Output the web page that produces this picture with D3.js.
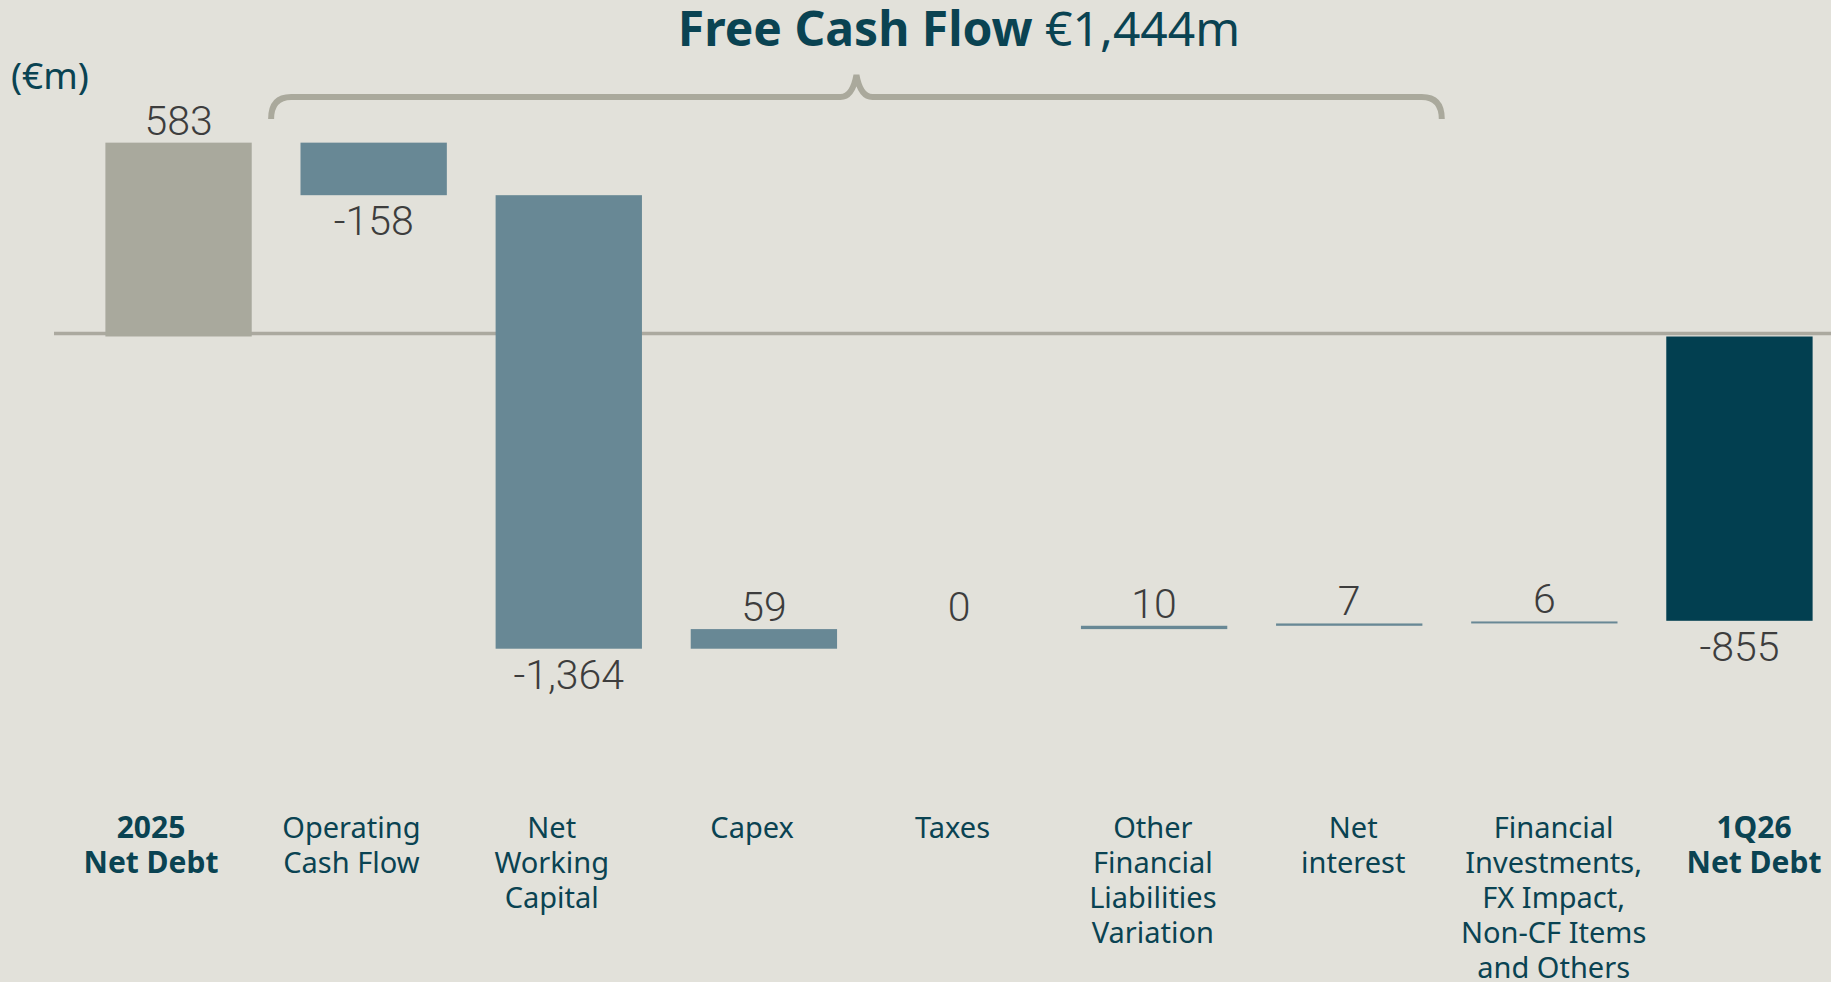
<!DOCTYPE html>
<html>
<head>
<meta charset="utf-8">
<script src="https://cdn.jsdelivr.net/npm/d3@7"></script>
<style>
  html, body { margin: 0; padding: 0; background: #e2e1da; }
  svg { display: block; }
</style>
</head>
<body>
<div id="chart"></div>
<script>
var svgWidth = 1831;
var svgHeight = 982;

// data
var categories = ["2025 Net Debt", "Operating Cash Flow", "Net Working Capital", "Capex", "Taxes",
    "Other Financial Liabilities Variation", "Net interest",
    "Financial Investments, FX Impact, Non-CF Items and Others", "1Q26 Net Debt"];
var labelLines = [
    ["2025", "Net Debt"],
    ["Operating", "Cash Flow"],
    ["Net", "Working", "Capital"],
    ["Capex"],
    ["Taxes"],
    ["Other", "Financial", "Liabilities", "Variation"],
    ["Net", "interest"],
    ["Financial", "Investments,", "FX Impact,", "Non-CF Items", "and Others"],
    ["1Q26", "Net Debt"]
];
var values = [583, -158, -1364, 59, 0, 10, 7, 6, -855];
var kinds = ["start", "delta", "delta", "delta", "delta", "delta", "delta", "delta", "end"];
var valueLabels = ["583", "-158", "-1,364", "59", "0", "10", "7", "6", "-855"];
var fcfFirst = 1, fcfLast = 6;   // bars covered by the Free Cash Flow brace

var colors = { start: "#a9a99d", delta: "#688895", end: "#023f50" };
var teal = "#0a4352";

// running totals for the waterfall
var running = 0;
var bars = values.map(function (v, i) {
    var y0, y1;
    if (kinds[i] === "delta") {
        y0 = running; y1 = running + v; running = y1;
    } else {
        y0 = 0; y1 = v; running = v;
    }
    return { cat: categories[i], kind: kinds[i], value: v, label: valueLabels[i],
        lines: labelLines[i], lo: Math.min(y0, y1), hi: Math.max(y0, y1) };
});

var svg = d3.select("#chart")
    .append("svg")
    .attr("width", svgWidth)
    .attr("height", svgHeight);

var x = d3.scaleBand()
    .domain(categories)
    .range([81, 1837])
    .paddingInner(0.25)
    .paddingOuter(0.125);

var xLabel = d3.scalePoint()
    .domain(categories)
    .range([151, 1754]);

var y = d3.scaleLinear()
    .domain([-1000, 600])
    .range([669, 137]);

// zero line
svg.append("line")
    .attr("x1", 54)
    .attr("x2", svgWidth)
    .attr("y1", y(0) - 3)
    .attr("y2", y(0) - 3)
    .attr("stroke", "#aba99f")
    .attr("stroke-width", 3.5);

svg.append("g")
    .selectAll("rect")
    .data(bars)
    .enter()
    .append("rect")
    .attr("x", d => x(d.cat))
    .attr("width", x.bandwidth())
    .attr("y", d => y(d.hi))
    .attr("height", d => y(d.lo) - y(d.hi))
    .attr("fill", d => colors[d.kind]);

// value labels
svg.append("g")
    .selectAll("text")
    .data(bars)
    .enter()
    .append("text")
    .attr("x", d => x(d.cat) + x.bandwidth() / 2)
    .attr("y", d => d.value < 0 ? y(d.lo) + 40 : y(d.hi) - 8)
    .attr("text-anchor", "middle")
    .attr("font-family", "Roboto, Liberation Sans, sans-serif")
    .attr("font-weight", 300)
    .attr("font-size", "41px")
    .attr("fill", "#3d3d3d")
    .text(d => d.label);

// category labels, one text per line
var lineRows = [];
bars.forEach(function (d) {
    d.lines.forEach(function (t, i) {
        lineRows.push({ cat: d.cat, kind: d.kind, text: t, row: i });
    });
});

svg.append("g")
    .selectAll("text")
    .data(lineRows)
    .enter()
    .append("text")
    .attr("x", d => xLabel(d.cat))
    .attr("y", d => 838 + d.row * 35)
    .attr("text-anchor", "middle")
    .attr("font-family", "Noto Sans, sans-serif")
    .attr("font-size", d => d.kind === "delta" ? "29px" : "30px")
    .attr("font-weight", d => d.kind === "delta" ? "normal" : "bold")
    .attr("fill", teal)
    .text(d => d.text);

// Free Cash Flow brace
var bx0 = x(categories[fcfFirst]) - x.step() * x.paddingInner() / 2 - 5;
var bx1 = x(categories[fcfLast]) + x.bandwidth() + x.step() * x.paddingInner() / 2 - 5;
var bm = (bx0 + bx1) / 2;
var by = 97, r = 16;
var brace = d3.path();
brace.moveTo(bx0, by + 22);
brace.quadraticCurveTo(bx0, by, bx0 + r + 4, by);
brace.lineTo(bm - r, by);
brace.quadraticCurveTo(bm - 4, by, bm, by - 22);
brace.quadraticCurveTo(bm + 4, by, bm + r, by);
brace.lineTo(bx1 - r - 4, by);
brace.quadraticCurveTo(bx1, by, bx1, by + 22);

svg.append("path")
    .attr("d", brace.toString())
    .attr("fill", "none")
    .attr("stroke", "#aaa99c")
    .attr("stroke-width", 6)
    .attr("stroke-linecap", "butt");

var title = svg.append("text")
    .attr("x", x(categories[4]) + x.bandwidth() / 2)
    .attr("y", 46)
    .attr("text-anchor", "middle")
    .attr("font-family", "Noto Sans, sans-serif")
    .attr("font-size", "48px")
    .attr("fill", teal);
title.append("tspan").attr("font-weight", "bold").text("Free Cash Flow ");
title.append("tspan").attr("font-weight", "normal").text("€1,444m");

svg.append("text")
    .attr("x", 11)
    .attr("y", 89)
    .attr("font-family", "Noto Sans, sans-serif")
    .attr("font-size", "37px")
    .attr("fill", teal)
    .text("(€m)");
</script>
</body>
</html>
